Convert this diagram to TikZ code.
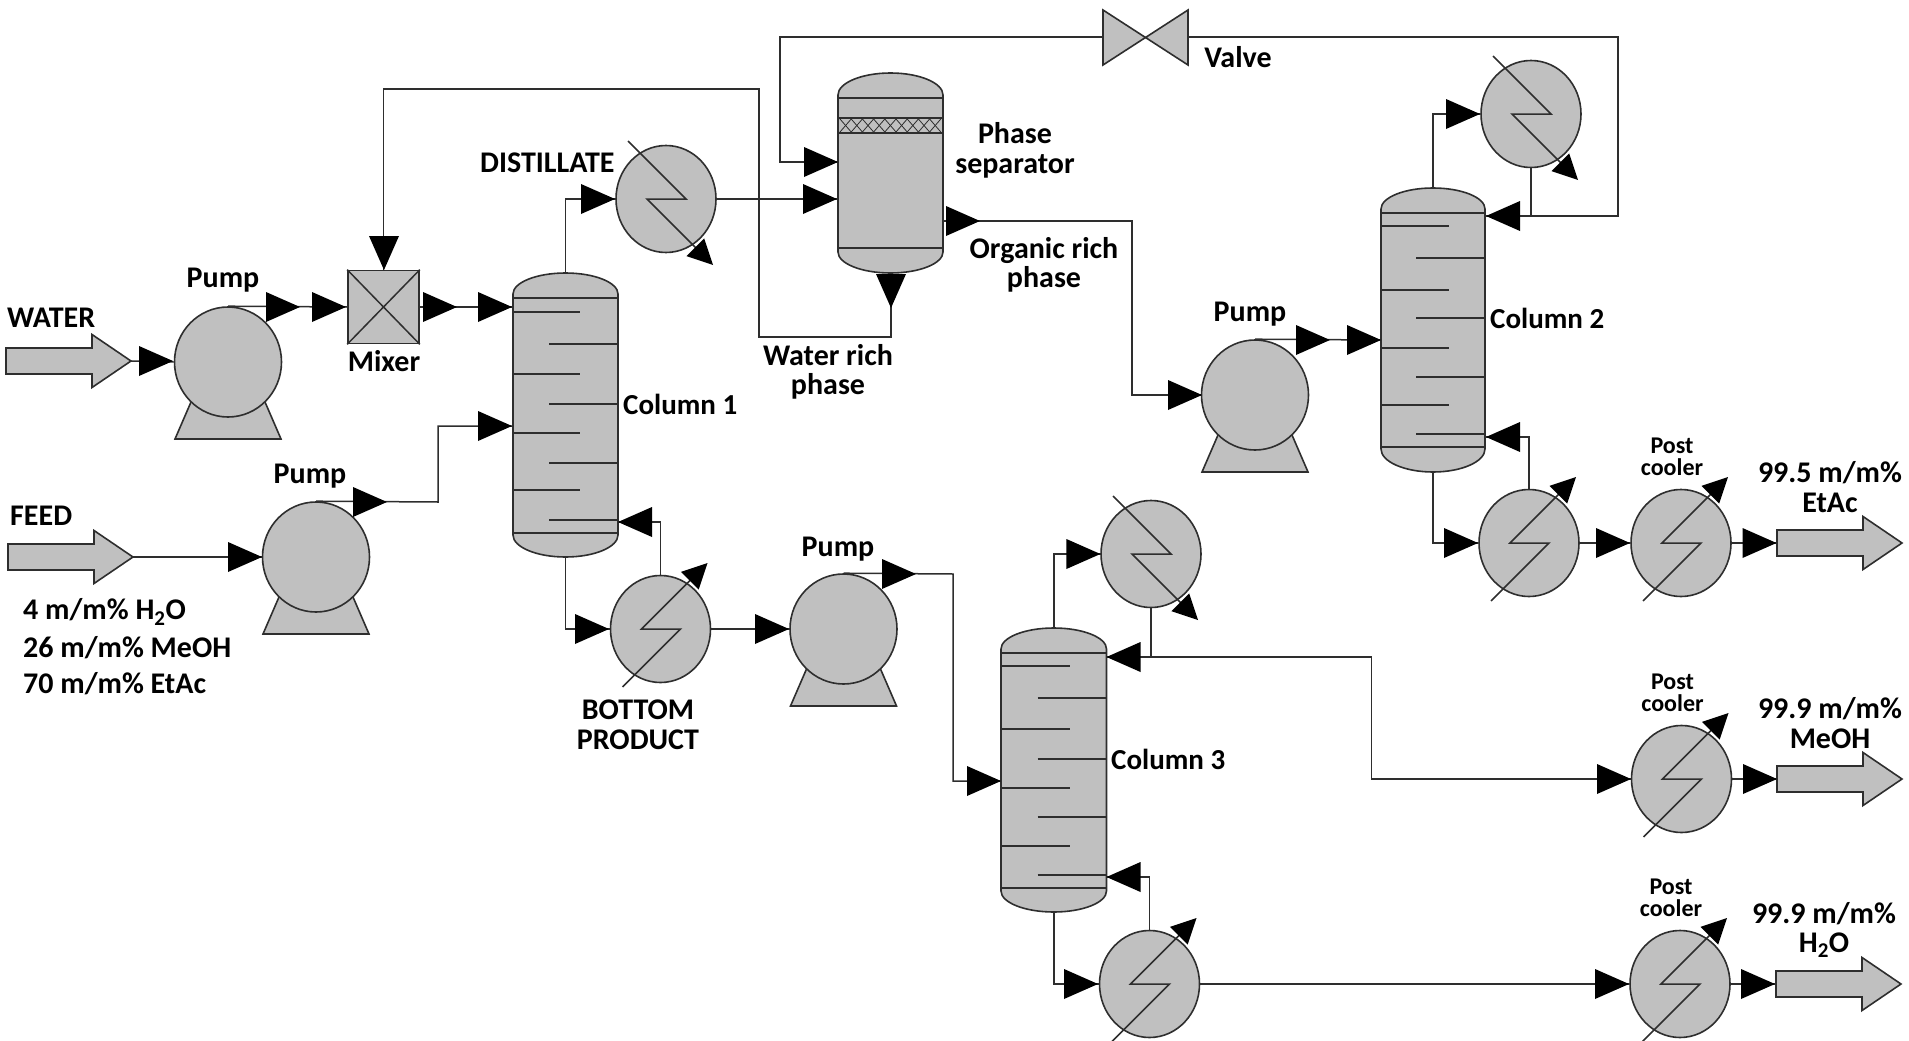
\documentclass[tikz,border=0pt]{standalone}
\usepackage{fontspec}
\setmainfont{Carlito}
\usetikzlibrary{shapes.geometric}
\definecolor{eqfill}{HTML}{C0C0C0}
\definecolor{ln}{HTML}{2E2E2E}
\newcommand\columnbody[7]{% name,x1,x2,ytop,ysh1,ysh2,ybot
  \pgfmathsetmacro\xc{(#2+#3)/2}\pgfmathsetmacro\rr{(#3-#2)/2}
  \pgfmathsetmacro\ca{#5-0.55*(#5-#4)}\pgfmathsetmacro\cb{#6+0.55*(#7-#6)}
  \pgfmathsetmacro\xl{\xc-0.55*\rr}\pgfmathsetmacro\xr{\xc+0.55*\rr}
  \draw[equip] (#2,#5) .. controls (#2,\ca) and (\xl,#4) .. (\xc,#4)
     .. controls (\xr,#4) and (#3,\ca) .. (#3,#5) -- (#3,#6)
     .. controls (#3,\cb) and (\xr,#7) .. (\xc,#7)
     .. controls (\xl,#7) and (#2,\cb) .. (#2,#6) -- cycle;
  \coordinate (#1top) at (\xc,#4);
  \coordinate (#1bot) at (\xc,#7);
}
\tikzset{
  x=1pt,y=-1pt,
  line/.style={draw=ln,line width=1.5pt},
  equip/.style={draw=ln,fill=eqfill,line width=1.6pt},
  tray/.style={draw=ln,line width=1.6pt},
  vesselball/.style={ellipse,equip,inner sep=0pt,minimum width=100pt,minimum height=107pt},
  pumpball/.style={ellipse,equip,inner sep=0pt,minimum width=107pt,minimum height=110pt},
  lab/.style={inner sep=0pt,align=center,text=black,font=\fontsize{30}{29.5}\selectfont\bfseries},
  labc/.style={inner sep=0pt,align=center,text=black,font=\fontsize{29}{29}\selectfont\bfseries},
  labs/.style={inner sep=0pt,align=center,text=black,font=\fontsize{24}{22}\selectfont\bfseries},
  head/.pic={\fill[black] (0,0) -- (-34,15) -- (-34,-15) -- cycle;},
  smallhead/.pic={\fill[black] (0,0) -- (-25,12.5) -- (-25,-12.5) -- cycle;},
  pumpbase/.pic={\draw[equip] (-53,77) -- (53,77) -- (37,40) -- (-37,40) -- cycle;},
  stream/.pic={\draw[equip] (0,0) -- (-39,-26.5) -- (-39,-13) -- (-125,-13) -- (-125,13) -- (-39,13) -- (-39,26.5) -- cycle;},
  boilzig/.pic={\draw[line] (-38,58) -- (20,0) -- (-19,0) -- (32,-51);
     \pic[rotate=45] at (47,-66) {smallhead};},
  condzig/.pic={\draw[line] (-38,-58) -- (20,0) -- (-19,0) -- (32,51);
     \pic[rotate=-45] at (47,66) {smallhead};},
}
\begin{document}
\begin{tikzpicture}
\useasboundingbox (0,0) rectangle (1909,1041);
% ---- named points
\coordinate (wtip) at (131,361);
\coordinate (ftip) at (133,557);
\coordinate (c1a) at (513,307);
\coordinate (c1b) at (513,426);
\coordinate (j1) at (438,502);
\coordinate (c1r) at (618,522);
\coordinate (s1) at (838,162);
\coordinate (s2) at (838,199);
\coordinate (sb) at (891,273);
\coordinate (so) at (943,221);
\coordinate (r1) at (759,337);
\coordinate (r2) at (759,89);
\coordinate (vw) at (1103,37);
\coordinate (ve) at (1188,37);
\coordinate (v1) at (780,37);
\coordinate (v2) at (1618,216);
\coordinate (c2in) at (1485,216);
\coordinate (o1) at (1132,221);
\coordinate (c2f) at (1381,340);
\coordinate (c2r) at (1485,437);
\coordinate (j4) at (953,574);
\coordinate (c3f) at (1001,781);
\coordinate (c3in) at (1106,657);
\coordinate (j5) at (1371.5,657);
\coordinate (c3r) at (1106,877);
\coordinate (t1) at (1777,543);
\coordinate (t2) at (1777,779);
\coordinate (t3) at (1776,984);
% ---- equipment
\columnbody{c1}{513}{618}{273}{294}{535}{557}
\foreach \ya/\xa/\xb in {298/513/618,312/513/580,344/549/618,374/513/580,404/549/618,433/513/580,463/549/618,490/513/580,520/549/618,533/513/618}
  \draw[tray] (\xa,\ya) -- (\xb,\ya);
\columnbody{c2}{1381}{1485}{188}{209}{449}{472}
\foreach \ya/\xa/\xb in {213/1381/1485,226/1381/1449,258/1416/1485,290/1381/1449,318/1416/1485,348/1381/1449,377/1416/1485,405/1381/1449,434/1416/1485,447/1381/1485}
  \draw[tray] (\xa,\ya) -- (\xb,\ya);
\columnbody{c3}{1001}{1106.5}{628}{649}{891}{912}
\foreach \ya/\xa/\xb in {653/1001/1106.5,666/1001/1070,698/1037.5/1106.5,729/1001/1070,759/1037.5/1106.5,788/1001/1070,817/1037.5/1106.5,846/1001/1070,875/1037.5/1106.5,888/1001/1106.5}
  \draw[tray] (\xa,\ya) -- (\xb,\ya);
% separator
\columnbody{sep}{838}{943}{73}{95}{252}{273}
\draw[line] (838,98) -- (943,98);
\draw[line] (838,248) -- (943,248);
\draw[line] (838,118) -- (943,118);
\draw[line] (838,133) -- (943,133);
\foreach \k in {0,...,8}{
  \draw[draw=ln,line width=0.8pt] (840+\k*11.2,119) -- (851.2+\k*11.2,132);
  \draw[draw=ln,line width=0.8pt] (840+\k*11.2,132) -- (851.2+\k*11.2,119);
}
% mixer
\node[rectangle,equip,inner sep=0pt,minimum width=71pt,minimum height=73pt] (mix) at (383.5,307) {};
\draw[line] (mix.north west) -- (mix.south east);
\draw[line] (mix.north east) -- (mix.south west);
% valve
\draw[equip] (1103,10) -- (1188,65) -- (1188,10) -- (1103,65) -- cycle;
% pumps
\pic at (228,362) {pumpbase};
\pic at (316,557) {pumpbase};
\pic at (1255,395) {pumpbase};
\pic at (843.5,629) {pumpbase};
\node[pumpball] (p1) at (228,362) {};
\node[pumpball] (p2) at (316,557) {};
\node[pumpball] (p3) at (1255,395) {};
\node[pumpball] (p4) at (843.5,629) {};
% heat exchangers
\node[vesselball] (hx1) at (666,199) {};
\node[vesselball] (hx2) at (1531,114) {};
\node[vesselball] (hx3) at (1151,554) {};
\node[vesselball] (rb1) at (660.5,629) {};
\node[vesselball] (rb2) at (1529,543) {};
\node[vesselball] (rb3) at (1149.5,984) {};
\node[vesselball] (pc1) at (1681,543) {};
\node[vesselball] (pc2) at (1681.5,779) {};
\node[vesselball] (pc3) at (1680,984) {};
\pic at (hx1.center) {condzig};
\pic at (hx2.center) {condzig};
\pic at (hx3.center) {condzig};
\pic at (rb1.center) {boilzig};
\pic at (rb2.center) {boilzig};
\pic at (rb3.center) {boilzig};
\pic at (pc1.center) {boilzig};
\pic at (pc2.center) {boilzig};
\pic at (pc3.center) {boilzig};
% stream arrows
\pic at (wtip) {stream};
\pic at (ftip) {stream};
\pic at (1902,543) {stream};
\pic at (1902,779) {stream};
\pic at (1901,984) {stream};
% ---- connectors
\draw[line] (wtip) -- (p1.west);
\draw[line] (ftip) -- (p2.west);
\draw[line] (p1.north) -- (mix.west);
\draw[line] (mix.east) -- (c1a);
\draw[line] (p2.north) -- (j1) |- (c1b);
\draw[line] (c1top) |- (hx1.west);
\draw[line] (hx1.east) -- (s2);
\draw[line] (sb) |- (r1) -- (r2) -| (mix.north);
\draw[line] (vw) -- (v1) |- (s1);
\draw[line] (ve) -| (v2) -- (c2in);
\draw[line] (hx2.south) -- (hx2.south |- c2in);
\draw[line] (c2top) |- (hx2.west);
\draw[line] (so) -- (o1) |- (p3.west);
\draw[line] (p3.north) -- (c2f);
\draw[line] (c2bot) |- (rb2.west);
\draw[line] (rb2.north) |- (c2r);
\draw[line] (rb2.east) -- (pc1.west);
\draw[line] (pc1.east) -- (t1);
\draw[line] (c1bot) |- (rb1.west);
\draw[line] (rb1.north) |- (c1r);
\draw[line] (rb1.east) -- (p4.west);
\draw[line] (p4.north) -- (j4) |- (c3f);
\draw[line] (c3top) |- (hx3.west);
\draw[line] (hx3.south) -- (hx3.south |- c3in);
\draw[line] (c3in) -- (j5) |- (pc2.west);
\draw[line] (pc2.east) -- (t2);
\draw[line] (c3bot) |- (rb3.west);
\draw[line] (rb3.north) |- (c3r);
\draw[line] (rb3.east) -- (pc3.west);
\draw[line] (pc3.east) -- (t3);
% ---- flow heads
\pic at (173,361) {head};
\pic at (300,307) {head};
\pic at (346,307) {head};
\pic[rotate=-90] at (384,270) {head};
\pic at (457,307) {head};
\pic at (512,307) {head};
\pic at (262,557) {head};
\pic at (387,502) {head};
\pic at (512,426) {head};
\pic at (615,199) {head};
\pic at (837,199) {head};
\pic at (838,162) {head};
\pic at (980,221) {head};
\pic[rotate=-90] at (891,308) {head};
\pic at (1202,395) {head};
\pic at (1330,340) {head};
\pic at (1381,340) {head};
\pic at (1480,114) {head};
\pic[rotate=180] at (1486,216) {head};
\pic[rotate=180] at (1486,437) {head};
\pic at (1478,543) {head};
\pic at (1630,543) {head};
\pic at (1776.5,543) {head};
\pic at (609,629) {head};
\pic[rotate=180] at (618,522) {head};
\pic at (789,629) {head};
\pic at (916,574) {head};
\pic at (1001,781) {head};
\pic at (1100.4,554) {head};
\pic[rotate=180] at (1106.5,657) {head};
\pic at (1631,779) {head};
\pic at (1777,779) {head};
\pic at (1098,984) {head};
\pic[rotate=180] at (1106.5,877) {head};
\pic at (1629,984) {head};
\pic at (1775,984) {head};
% ---- labels
\node[lab,anchor=west] (lwater) at (7,318) {WATER};
\node[lab,anchor=west] (lfeed) at (10,516) {FEED};
\node[lab,anchor=west] (lc1a) at (23,612) {4 m/m\% H\textsubscript{2}O};
\node[lab,anchor=west] (lc1b) at (23,648) {26 m/m\% MeOH};
\node[lab,anchor=west] (lc1c) at (23,684) {70 m/m\% EtAc};
\node[lab] (lp1) at (223,280) {Pump};
\node[lab] (lp2) at (310,476) {Pump};
\node[lab] (lp3) at (1250,314) {Pump};
\node[lab] (lp4) at (838,549) {Pump};
\node[lab] (lmix) at (384,361) {Mixer};
\node[lab,anchor=west] (ldist) at (480,163) {DISTILLATE};
\node[labc,anchor=west] (lc1) at (623,404) {Column 1};
\node[labc,anchor=west] (lc2) at (1490,318) {Column 2};
\node[labc,anchor=west] (lc3) at (1111,759) {Column 3};
\node[lab] (lsep) at (1015,150.5) {Phase\\separator};
\node[lab] (lorg) at (1044,265) {Organic rich\\phase};
\node[lab] (lwr) at (828,372) {Water rich\\phase};
\node[lab] (lbot) at (638,725) {BOTTOM\\PRODUCT};
\node[lab] (lval) at (1238,57) {Valve};
\node[labs] (lpc1) at (1672,457) {Post\\cooler};
\node[labs] (lpc2) at (1672.5,692.5) {Post\\cooler};
\node[labs] (lpc3) at (1671,897.5) {Post\\cooler};
\node[lab] (lo1) at (1830,487) {99.5 m/m\%\\EtAc};
\node[lab] (lo2) at (1830,723) {99.9 m/m\%\\MeOH};
\node[lab] (lo3) at (1824,930) {99.9 m/m\%\\H\textsubscript{2}O};
\end{tikzpicture}
\end{document}
